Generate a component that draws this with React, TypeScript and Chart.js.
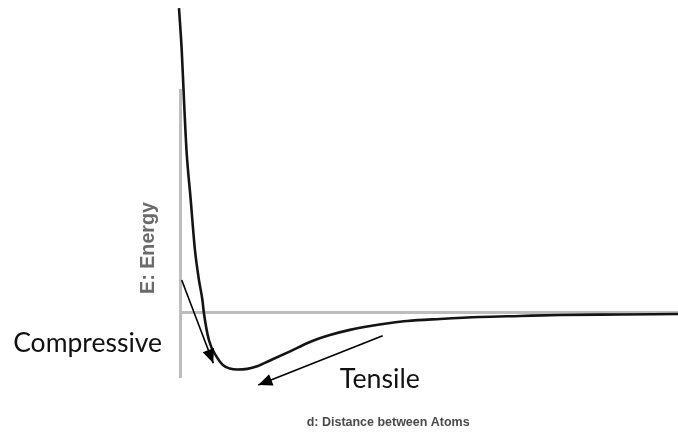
import React, { useEffect, useRef } from "react";
import { Chart, registerables } from "chart.js";

Chart.register(...registerables);

// Lennard-Jones style potential curve (distance, energy)
const distance = [-0.02, 0.034, 0.08, 0.13, 0.215, 0.3, 0.38, 0.45, 0.48, 0.58, 0.74, 0.86, 1.0, 1.145, 1.35, 1.55, 1.81, 2.21, 2.61, 3.01, 3.41, 3.82, 4.22, 4.56, 5.22, 6.02, 6.83, 7.63, 8.84, 10];
const energy = [4.69, 4.05, 3.28, 2.51, 1.74, 0.97, 0.51, 0.2, 0.0, -0.415, -0.68, -0.8, -0.854, -0.87, -0.86, -0.82, -0.73, -0.59, -0.446, -0.34, -0.26, -0.2, -0.154, -0.123, -0.092, -0.062, -0.046, -0.031, -0.023, -0.015];

// Annotation arrows: [start, tip]
const compressiveArrowX = [0.034, 0.669];
const compressiveArrowY = [0.508, -0.774];
const tensileArrowX = [4.07, 1.572];
const tensileArrowY = [-0.349, -1.108];

const labelCompressive = "Compressive";
const labelTensile = "Tensile";
const xTitle = "d: Distance between Atoms";
const yTitle = "E: Energy";

function toPoints(xs: number[], ys: number[]) {
  return xs.map((x, i) => ({ x, y: ys[i] }));
}

function fitFont(ctx: CanvasRenderingContext2D, text: string, weight: string, family: string, target: number) {
  ctx.font = `${weight} 20px ${family}`;
  const w = ctx.measureText(text).width;
  const size = (20 * target) / w;
  return `${weight} ${size.toFixed(2)}px ${family}`;
}

const annotationPlugin = {
  id: "annotations",
  afterDatasetsDraw(chart: any) {
    const ctx: CanvasRenderingContext2D = chart.ctx;
    const xs = chart.scales.x;
    const ys = chart.scales.y;
    const area = chart.chartArea;

    // arrow heads
    [1, 2].forEach((idx) => {
      const pts = chart.getDatasetMeta(idx).data;
      const a = pts[0];
      const b = pts[1];
      const ang = Math.atan2(b.y - a.y, b.x - a.x);
      const len = 14;
      const half = 6;
      const bx = b.x - len * Math.cos(ang);
      const by = b.y - len * Math.sin(ang);
      ctx.save();
      ctx.fillStyle = "#000";
      ctx.beginPath();
      ctx.moveTo(b.x, b.y);
      ctx.lineTo(bx + half * Math.sin(ang), by - half * Math.cos(ang));
      ctx.lineTo(bx - half * Math.sin(ang), by + half * Math.cos(ang));
      ctx.closePath();
      ctx.fill();
      ctx.restore();
    });

    // text labels
    ctx.save();
    ctx.fillStyle = "#111";
    ctx.textBaseline = "alphabetic";
    ctx.font = fitFont(ctx, labelCompressive, "normal", "Lato", 149);
    ctx.textAlign = "right";
    ctx.fillText(labelCompressive, xs.getPixelForValue(-0.36), ys.getPixelForValue(-0.6));
    ctx.font = fitFont(ctx, labelTensile, "normal", "Lato", 80);
    ctx.textAlign = "left";
    ctx.fillText(labelTensile, xs.getPixelForValue(3.21), ys.getPixelForValue(-1.15));
    ctx.restore();

    // x axis title
    ctx.save();
    ctx.fillStyle = "#4a4a4a";
    ctx.font = fitFont(ctx, xTitle, "bold", "'Liberation Sans'", 163);
    ctx.textAlign = "center";
    ctx.textBaseline = "middle";
    ctx.fillText(xTitle, xs.getPixelForValue(4.18), area.bottom + 45);
    ctx.restore();

    // y axis title
    ctx.save();
    ctx.fillStyle = "#6a6a6a";
    ctx.translate(area.left - 31.5, ys.getPixelForValue(1.0));
    ctx.rotate(-Math.PI / 2);
    ctx.font = fitFont(ctx, yTitle, "bold", "'Liberation Sans'", 92);
    ctx.textAlign = "center";
    ctx.textBaseline = "middle";
    ctx.fillText(yTitle, 0, 0);
    ctx.restore();
  },
};

export default function App() {
  const ref = useRef<HTMLCanvasElement | null>(null);

  useEffect(() => {
    if (!ref.current) return;
    const chart = new Chart(ref.current, {
      type: "line",
      data: {
        datasets: [
          {
            data: toPoints(distance, energy),
            borderColor: "#141414",
            borderWidth: 2.6,
            pointRadius: 0,
            cubicInterpolationMode: "monotone",
            clip: false as any,
          },
          {
            data: toPoints(compressiveArrowX, compressiveArrowY),
            borderColor: "#000",
            borderWidth: 1.6,
            pointRadius: 0,
            clip: false as any,
          },
          {
            data: toPoints(tensileArrowX, tensileArrowY),
            borderColor: "#000",
            borderWidth: 1.6,
            pointRadius: 0,
            clip: false as any,
          },
        ],
      },
      options: {
        responsive: false,
        animation: false,
        devicePixelRatio: 1,
        layout: { padding: { left: 180, top: 90, right: 0, bottom: 60 } },
        plugins: { legend: { display: false }, tooltip: { enabled: false } },
        scales: {
          x: { type: "linear", min: 0, max: 10, display: false },
          y: {
            type: "linear",
            min: -1,
            max: 3.43,
            ticks: { display: false, stepSize: 1 },
            grid: {
              drawTicks: false,
              color: (c: any) => (c.tick && c.tick.value === 0 ? "#bdbdbd" : "rgba(0,0,0,0)"),
              lineWidth: (c: any) => (c.tick && c.tick.value === 0 ? 3 : 0),
            },
            border: { display: true, color: "#bdbdbd", width: 3 },
          },
        },
      },
      plugins: [annotationPlugin],
    });
    return () => chart.destroy();
  }, []);

  return (
    <div style={{ position: "absolute", left: 0, top: 0, width: 678, height: 438, background: "#fff" }}>
      <canvas ref={ref} width={678} height={438} style={{ display: "block" }} />
    </div>
  );
}
